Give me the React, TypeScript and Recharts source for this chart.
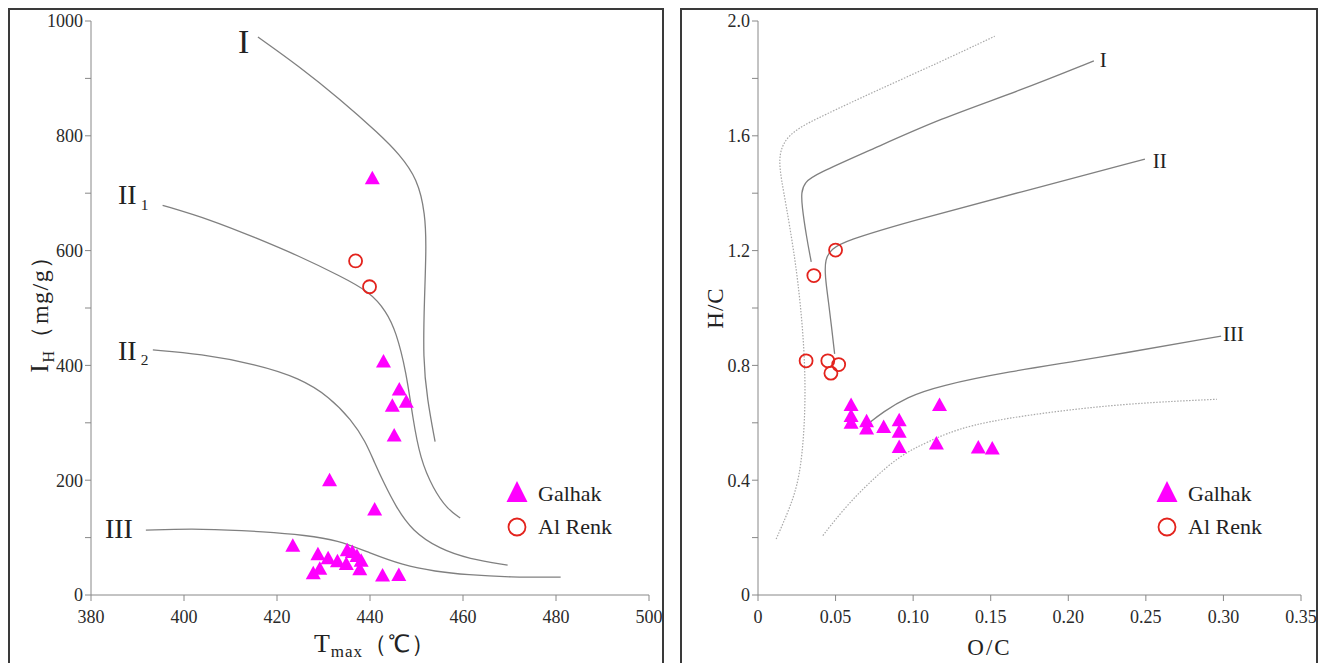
import React from "react"
import { Legend, Scatter, ScatterChart, XAxis, YAxis } from "recharts"

const SERIF = '"Liberation Serif", "Times New Roman", serif'
const MAGENTA = "#ff00ff"
const RED = "#e3231d"
const CURVE = "#808080"
const DOTTED = "#a8a8a8"

// ---- left panel: Tmax vs IH ----
const tmaxTicks = [380, 400, 420, 440, 460, 480, 500]
const ihTicks = [0, 100, 200, 300, 400, 500, 600, 700, 800, 900, 1000]

const galhakTmax = [440.5, 442.9, 446.3, 447.8, 444.8, 445.2, 431.3, 441.0, 423.4, 428.8, 431.0, 433.0, 435.1, 436.2, 437.2, 438.1, 434.9, 437.8, 427.8, 429.2, 442.7, 446.2]
const galhakIH = [725, 406, 357, 336, 329, 277, 199, 148, 85, 70, 63, 58, 77, 74, 67, 59, 53, 44, 37, 45, 33, 34]
const alRenkTmax = [436.9, 439.9]
const alRenkIH = [582, 537]

const typeITmax = [415.9, 424.9, 433.5, 442.0, 446.3, 450.2, 451.9, 452.1, 451.7, 451.4, 452.3, 454.0]
const typeIIH = [972, 920, 864, 803, 768, 725, 664, 603, 516, 411, 341, 267]
const typeII1Tmax = [395.4, 405.7, 415.5, 424.9, 433.5, 440.0, 443.5, 445.6, 447.8, 449.2, 450.8, 453.6, 456.6, 459.4]
const typeII1IH = [679, 654, 622, 590, 556, 528, 494, 459, 389, 308, 237, 185, 150, 134]
const typeII2Tmax = [393.3, 403.5, 415.5, 424.9, 431.3, 436.0, 439.0, 441.0, 443.0, 445.5, 449.0, 455.0, 461.3, 469.6]
const typeII2IH = [427, 420, 402, 378, 345, 305, 268, 230, 195, 155, 112, 80, 63, 52]
const typeIIITmax = [391.8, 403.5, 418, 426, 433, 440, 447, 454, 461, 470, 481]
const typeIIIIH = [113, 116, 110, 104, 96, 73, 52, 41, 35, 31, 31]

const leftLabels = [
  { x: 411.6, y: 965, text: "I", sub: "", size: 34 },
  { x: 385.8, y: 697, text: "II", sub: "1", size: 28 },
  { x: 385.8, y: 426, text: "II", sub: "2", size: 28 },
  { x: 383.0, y: 115, text: "III", sub: "", size: 28 },
]

// ---- right panel: O/C vs H/C ----
const ocTicks = [0, 0.05, 0.1, 0.15, 0.2, 0.25, 0.3, 0.35]
const hcTicks = [0, 0.2, 0.4, 0.6, 0.8, 1.0, 1.2, 1.4, 1.6, 1.8, 2.0]

const galhakOC = [0.060, 0.060, 0.060, 0.070, 0.070, 0.081, 0.091, 0.091, 0.091, 0.117, 0.115, 0.142, 0.151]
const galhakHC = [0.660, 0.622, 0.598, 0.604, 0.578, 0.584, 0.607, 0.567, 0.514, 0.660, 0.526, 0.512, 0.509]
const alRenkOC = [0.050, 0.036, 0.031, 0.045, 0.052, 0.047]
const alRenkHC = [1.202, 1.113, 0.816, 0.816, 0.803, 0.773]

const kIOC = [0.0343, 0.0311, 0.0283, 0.0279, 0.030, 0.0375, 0.0741, 0.1171, 0.1687, 0.2165]
const kIHC = [1.161, 1.252, 1.357, 1.403, 1.438, 1.467, 1.554, 1.659, 1.757, 1.861]
const kIIOC = [0.0494, 0.0475, 0.0455, 0.0432, 0.0432, 0.0472, 0.0569, 0.0956, 0.1687, 0.2494]
const kIIHC = [0.84, 0.93, 1.02, 1.11, 1.17, 1.206, 1.235, 1.299, 1.403, 1.519]
const kIIIOC = [0.0708, 0.0805, 0.0956, 0.1171, 0.161, 0.214, 0.2985]
const kIIIHC = [0.596, 0.637, 0.689, 0.729, 0.778, 0.822, 0.902]
const upperBoundOC = [0.0117, 0.0203, 0.0268, 0.030, 0.0306, 0.0289, 0.0257, 0.0225, 0.0182, 0.015, 0.0134, 0.016, 0.0246, 0.0418, 0.0741, 0.117, 0.1526]
const upperBoundHC = [0.195, 0.300, 0.404, 0.578, 0.753, 0.927, 1.095, 1.217, 1.356, 1.449, 1.519, 1.577, 1.624, 1.670, 1.752, 1.856, 1.947]
const lowerBoundOC = [0.0418, 0.0569, 0.0741, 0.0913, 0.1085, 0.1347, 0.1875, 0.240, 0.2958]
const lowerBoundHC = [0.207, 0.311, 0.404, 0.485, 0.532, 0.594, 0.638, 0.668, 0.682]

const rightLabels = [
  { x: 0.2203, y: 1.864, text: "I", sub: "", size: 21 },
  { x: 0.2545, y: 1.512, text: "II", sub: "", size: 21 },
  { x: 0.2997, y: 0.909, text: "III", sub: "", size: 21 },
]

const pts = (xs: number[], ys: number[]) => xs.map((x, i) => ({ x, y: ys[i] }))

const Nothing = () => <g />

const Triangle = (p: any) => (
  <polygon points={`${p.cx},${p.cy - 8} ${p.cx - 7.5},${p.cy + 5.5} ${p.cx + 7.5},${p.cy + 5.5}`} fill={MAGENTA} />
)
const Ring = (p: any) => <circle cx={p.cx} cy={p.cy} r={6.5} fill="none" stroke={RED} strokeWidth={1.8} />

const CurveLabel = (p: any) => {
  const size = p.payload.size
  return (
    <text x={p.cx} y={p.cy} dominantBaseline="central" fontFamily={SERIF} fontSize={size} fill="#222">
      {p.payload.text}
      {p.payload.sub ? (
        <tspan dx={4} dy={9} fontSize={size * 0.55}>
          {p.payload.sub}
        </tspan>
      ) : null}
    </text>
  )
}

const legendBox = () => (
  <svg width={150} height={70}>
    <polygon points="17,5 6.5,26 27.5,26" fill={MAGENTA} />
    <text x={38} y={25} fontFamily={SERIF} fontSize={22} fill="#222">Galhak</text>
    <circle cx={17} cy={51} r={8.5} fill="none" stroke={RED} strokeWidth={1.8} />
    <text x={38} y={58} fontFamily={SERIF} fontSize={22} fill="#222">Al Renk</text>
  </svg>
)

const tickStyle = { fontFamily: SERIF, fontSize: 18, fill: "#2a2a2a" }
const axisStroke = { stroke: "#888" }

const curveLine = { stroke: CURVE, strokeWidth: 1.3 }
const dottedLine = { stroke: DOTTED, strokeWidth: 1.2, strokeDasharray: "1.5 1.5" }

export default function App() {
  const leftXTitle = (p: any) => {
    const vb = p.viewBox
    return (
      <text x={vb.x + vb.width / 2 + 5} y={vb.y + 57} textAnchor="middle" fontFamily={SERIF} fontSize={26} fill="#222" letterSpacing={1}>
        T<tspan fontSize={17} dy={5}>max</tspan>
        <tspan dy={-5} fontSize={24}>（℃）</tspan>
      </text>
    )
  }
  const leftYTitle = (p: any) => {
    const vb = p.viewBox
    const x = vb.x + 17
    const y = vb.y + vb.height / 2
    return (
      <text x={x} y={y} transform={`rotate(-90, ${x}, ${y})`} textAnchor="middle" fontFamily={SERIF} fontSize={26} fill="#222" letterSpacing={1.5}>
        I<tspan fontSize={16} dy={6}>H</tspan>
        <tspan dy={-6} fontSize={24}>（mg/g）</tspan>
      </text>
    )
  }
  const rightXTitle = (p: any) => {
    const vb = p.viewBox
    return (
      <text x={vb.x + vb.width / 2 - 40} y={vb.y + 60} textAnchor="middle" fontFamily={SERIF} fontSize={23} fill="#222" letterSpacing={2}>
        O/C
      </text>
    )
  }
  const rightYTitle = (p: any) => {
    const vb = p.viewBox
    const x = vb.x + 25
    const y = vb.y + vb.height / 2
    return (
      <text x={x} y={y} transform={`rotate(-90, ${x}, ${y})`} textAnchor="middle" fontFamily={SERIF} fontSize={23} fill="#222" letterSpacing={1}>
        H/C
      </text>
    )
  }

  return (
    <div style={{ position: "absolute", left: 0, top: 0, width: 1320, height: 663, background: "#fff", overflow: "hidden", fontFamily: SERIF }}>
      <div style={{ position: "absolute", left: 8, top: 8, width: 652, height: 700, border: "2px solid #3a3a3a" }} />
      <div style={{ position: "absolute", left: 680, top: 8, width: 634, height: 700, border: "2px solid #3a3a3a" }} />

      <div style={{ position: "absolute", left: 0, top: 0 }}>
        <ScatterChart width={663} height={663} margin={{ top: 21, right: 14, bottom: 38, left: 31 }}>
          <XAxis type="number" dataKey="x" domain={[380, 500]} ticks={tmaxTicks} tick={tickStyle} tickMargin={9} axisLine={axisStroke} tickLine={axisStroke} label={{ content: leftXTitle }} />
          <YAxis type="number" dataKey="y" domain={[0, 1000]} ticks={ihTicks} tick={tickStyle} axisLine={axisStroke} tickLine={axisStroke} tickFormatter={(v: number) => (v % 200 === 0 ? String(v) : "")} label={{ content: leftYTitle }} />
          <Scatter data={pts(typeITmax, typeIIH)} line={curveLine} lineJointType="basis" shape={Nothing} isAnimationActive={false} />
          <Scatter data={pts(typeII1Tmax, typeII1IH)} line={curveLine} lineJointType="basis" shape={Nothing} isAnimationActive={false} />
          <Scatter data={pts(typeII2Tmax, typeII2IH)} line={curveLine} lineJointType="basis" shape={Nothing} isAnimationActive={false} />
          <Scatter data={pts(typeIIITmax, typeIIIIH)} line={curveLine} lineJointType="basis" shape={Nothing} isAnimationActive={false} />
          <Scatter name="Galhak" data={pts(galhakTmax, galhakIH)} shape={Triangle} isAnimationActive={false} />
          <Scatter name="Al Renk" data={pts(alRenkTmax, alRenkIH)} shape={Ring} isAnimationActive={false} />
          <Scatter data={leftLabels} shape={CurveLabel} isAnimationActive={false} />
          <Legend layout="horizontal" verticalAlign="middle" content={legendBox} wrapperStyle={{ left: 500, top: 476, width: 150, height: 70 }} />
        </ScatterChart>
      </div>

      <div style={{ position: "absolute", left: 672, top: 0 }}>
        <ScatterChart width={648} height={663} margin={{ top: 21, right: 19, bottom: 38, left: 26 }}>
          <XAxis type="number" dataKey="x" domain={[0, 0.35]} ticks={ocTicks} tick={tickStyle} tickMargin={9} axisLine={axisStroke} tickLine={axisStroke} tickFormatter={(v: number) => (v === 0 ? "0" : v.toFixed(2))} label={{ content: rightXTitle }} />
          <YAxis type="number" dataKey="y" domain={[0, 2]} ticks={hcTicks} tick={tickStyle} axisLine={axisStroke} tickLine={axisStroke} tickFormatter={(v: number) => (Math.round(v * 10) % 4 === 0 ? (v === 0 ? "0" : v.toFixed(1)) : "")} label={{ content: rightYTitle }} />
          <Scatter data={pts(upperBoundOC, upperBoundHC)} line={dottedLine} lineJointType="basis" shape={Nothing} isAnimationActive={false} />
          <Scatter data={pts(lowerBoundOC, lowerBoundHC)} line={dottedLine} lineJointType="basis" shape={Nothing} isAnimationActive={false} />
          <Scatter data={pts(kIOC, kIHC)} line={curveLine} lineJointType="basis" shape={Nothing} isAnimationActive={false} />
          <Scatter data={pts(kIIOC, kIIHC)} line={curveLine} lineJointType="basis" shape={Nothing} isAnimationActive={false} />
          <Scatter data={pts(kIIIOC, kIIIHC)} line={curveLine} lineJointType="basis" shape={Nothing} isAnimationActive={false} />
          <Scatter name="Galhak" data={pts(galhakOC, galhakHC)} shape={Triangle} isAnimationActive={false} />
          <Scatter name="Al Renk" data={pts(alRenkOC, alRenkHC)} shape={Ring} isAnimationActive={false} />
          <Scatter data={rightLabels} shape={CurveLabel} isAnimationActive={false} />
          <Legend layout="horizontal" verticalAlign="middle" content={legendBox} wrapperStyle={{ left: 478, top: 476, width: 150, height: 70 }} />
        </ScatterChart>
      </div>
    </div>
  )
}
